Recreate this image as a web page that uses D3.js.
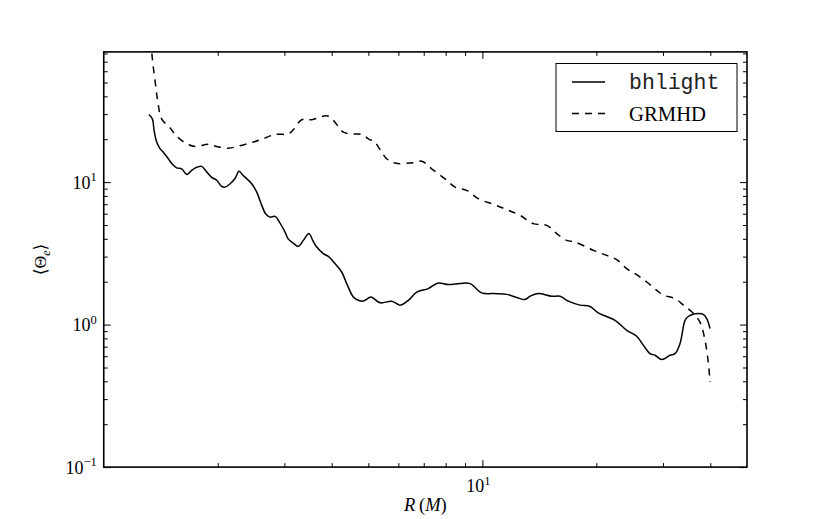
<!DOCTYPE html>
<html>
<head>
<meta charset="utf-8">
<script src="https://cdn.jsdelivr.net/npm/d3@7"></script>
<style>
  html, body { margin: 0; padding: 0; background: #fff; }
  svg { display: block; }
</style>
</head>
<body>
<svg id="chart" width="830" height="519"></svg>
<script>
// ---- data ----
const bhlightR = [1.316,1.344,1.358,1.380,1.408,1.436,1.481,1.512,1.558,1.606,1.656,1.707,1.760,1.814,1.870,1.928,1.988,2.049,2.091,2.156,2.222,2.277,2.337,2.459,2.535,2.614,2.683,2.749,2.834,2.922,3.012,3.073,3.167,3.265,3.366,3.484,3.564,3.652,3.801,3.918,4.081,4.251,4.382,4.561,4.657,4.801,4.898,5.08,5.311,5.422,5.762,6.061,6.375,6.709,7.196,7.647,8.131,8.730,9.278,9.961,10.69,11.60,12.32,12.96,13.36,14.05,15.25,16.04,16.87,18.11,19.24,20.24,22.41,24.06,25.56,26.62,27.72,28.58,29.77,31.31,32.28,33.27,34.30,34.99,36.45,38.33,39.14,39.93];
const bhlightTheta = [29.8,27.8,23.1,19.1,17.2,16.2,14.6,13.5,12.6,12.4,11.3,12.1,12.7,12.9,11.8,10.8,10.3,9.33,9.22,9.74,10.6,11.9,11.1,9.74,8.51,6.87,5.94,5.68,5.75,5.16,4.46,3.98,3.73,3.54,3.90,4.35,3.90,3.50,3.15,3.01,2.68,2.34,1.94,1.56,1.50,1.46,1.48,1.56,1.44,1.42,1.46,1.37,1.48,1.69,1.79,1.96,1.91,1.94,1.94,1.67,1.65,1.63,1.55,1.50,1.58,1.65,1.58,1.58,1.46,1.37,1.34,1.21,1.07,0.912,0.828,0.716,0.626,0.609,0.568,0.609,0.626,0.736,1.07,1.14,1.19,1.18,1.10,0.937];

const grmhdR = [1.333,1.344,1.366,1.388,1.422,1.496,1.558,1.656,1.742,1.889,1.988,2.133,2.290,2.483,2.639,2.834,3.073,3.167,3.333,3.541,3.880,4.040,4.294,4.561,4.801,5.050,5.152,5.589,5.877,6.441,6.917,7.346,8.052,8.469,9.093,9.757,10.69,11.60,12.58,13.63,14.79,15.72,16.70,17.57,19.64,21.30,22.64,24.06,25.56,27.18,28.87,30.06,32.28,33.95,35.73,37.57,38.73,39.54,39.93];
const grmhdTheta = [98.6,73.3,51.7,37.4,27.8,24.1,21.0,18.6,17.8,18.4,17.8,17.3,18.0,19.1,20.2,21.6,21.8,23.3,27.4,27.4,29.2,27.1,22.4,21.8,21.6,19.8,19.6,14.6,13.6,13.6,14.0,12.4,10.3,9.22,8.74,7.65,6.98,6.41,5.84,5.11,4.97,4.35,3.90,3.80,3.32,3.06,2.86,2.47,2.24,1.99,1.74,1.61,1.52,1.37,1.23,1.04,0.776,0.533,0.396];

const seriesNames = ["bhlight", "GRMHD"];
const xMajorTicks = [10];
const xMajorLabels = [["10", "1"]];
const xMinorTicks = [2,3,4,5,6,7,8,9,20,30,40];
const yMajorTicks = [0.1, 1, 10];
const yMajorLabels = [["10", "\u22121"], ["10", "0"], ["10", "1"]];
const yMinorTicks = [0.2,0.3,0.4,0.5,0.6,0.7,0.8,0.9,2,3,4,5,6,7,8,9,20,30,40,50,60,70,80];
const xDomain = [1, 50];
const yDomain = [0.1, 82];

// ---- layout ----
const W = 830, H = 519;
const m = { left: 103.75, right: 83, top: 51.9, bottom: 51.9 };
const pw = W - m.left - m.right, ph = H - m.top - m.bottom;
const serif = "'Liberation Serif', 'DejaVu Serif', serif";

const svg = d3.select("#chart");
const x = d3.scaleLog().domain(xDomain).range([0, pw]);
const y = d3.scaleLog().domain(yDomain).range([ph, 0]);

const g = svg.append("g").attr("transform", `translate(${m.left},${m.top})`);

g.append("clipPath").attr("id", "clip")
  .append("rect").attr("width", pw).attr("height", ph);

// ticks (inward, all four sides)
function styleAxis(sel) {
  sel.select(".domain").remove();
  sel.selectAll("line").attr("stroke", "#000").attr("stroke-width", 1);
  sel.selectAll("text").remove();
}
const MAJ = 7, MIN = 4;
g.append("g").attr("transform", `translate(0,${ph})`)
  .call(d3.axisBottom(x).tickValues(xMajorTicks).tickSize(-MAJ).tickFormat("")).call(styleAxis);
g.append("g").attr("transform", `translate(0,${ph})`)
  .call(d3.axisBottom(x).tickValues(xMinorTicks).tickSize(-MIN).tickFormat("")).call(styleAxis);
g.append("g")
  .call(d3.axisTop(x).tickValues(xMajorTicks).tickSize(-MAJ).tickFormat("")).call(styleAxis);
g.append("g")
  .call(d3.axisTop(x).tickValues(xMinorTicks).tickSize(-MIN).tickFormat("")).call(styleAxis);
g.append("g")
  .call(d3.axisLeft(y).tickValues(yMajorTicks).tickSize(-MAJ).tickFormat("")).call(styleAxis);
g.append("g")
  .call(d3.axisLeft(y).tickValues(yMinorTicks).tickSize(-MIN).tickFormat("")).call(styleAxis);
g.append("g").attr("transform", `translate(${pw},0)`)
  .call(d3.axisRight(y).tickValues(yMajorTicks).tickSize(-MAJ).tickFormat("")).call(styleAxis);
g.append("g").attr("transform", `translate(${pw},0)`)
  .call(d3.axisRight(y).tickValues(yMinorTicks).tickSize(-MIN).tickFormat("")).call(styleAxis);

// tick labels with superscripts
xMajorTicks.forEach((v, i) => {
  const t = g.append("text")
    .attr("x", x(v) - 4).attr("y", ph + 25)
    .attr("text-anchor", "middle")
    .attr("font-family", serif).attr("font-size", 18).attr("fill", "#000");
  t.append("tspan").text(xMajorLabels[i][0]);
  t.append("tspan").attr("dy", -7.5).attr("font-size", 12.5).text(xMajorLabels[i][1]);
});
yMajorTicks.forEach((v, i) => {
  const t = g.append("text")
    .attr("x", -7).attr("y", y(v) + 6.5)
    .attr("text-anchor", "end")
    .attr("font-family", serif).attr("font-size", 18).attr("fill", "#000");
  t.append("tspan").text(yMajorLabels[i][0]);
  t.append("tspan").attr("dy", -7.5).attr("font-size", 12.5).text(yMajorLabels[i][1]);
});

// lines
const line = d3.line().x(d => x(d[0])).y(d => y(d[1])).curve(d3.curveCatmullRom.alpha(0.5));
const bh = bhlightR.map((r, i) => [r, bhlightTheta[i]]);
const gr = grmhdR.map((r, i) => [r, grmhdTheta[i]]);
const lines = g.append("g").attr("clip-path", "url(#clip)");
lines.append("path").datum(gr).attr("d", line)
  .attr("fill", "none").attr("stroke", "#000").attr("stroke-width", 1.5)
  .attr("stroke-dasharray", "7,6");
lines.append("path").datum(bh).attr("d", line)
  .attr("fill", "none").attr("stroke", "#000").attr("stroke-width", 1.5)
  .attr("stroke-linejoin", "round");

// frame
g.append("rect").attr("width", pw).attr("height", ph)
  .attr("fill", "none").attr("stroke", "#000").attr("stroke-width", 1.6);

// axis labels
const xl = svg.append("text")
  .attr("x", m.left + pw / 2).attr("y", 511)
  .attr("text-anchor", "middle")
  .attr("font-family", serif).attr("font-size", 18.5).attr("fill", "#000");
xl.append("tspan").attr("font-style", "italic").text("R");
xl.append("tspan").text("\u2009(");
xl.append("tspan").attr("font-style", "italic").text("M");
xl.append("tspan").text(")");

const yl = svg.append("text")
  .attr("transform", `translate(46,${m.top + ph / 2}) rotate(-90)`)
  .attr("text-anchor", "middle")
  .attr("font-family", serif).attr("font-size", 17.5).attr("fill", "#000");
yl.append("tspan").text("\u27E8\u0398");
yl.append("tspan").attr("dy", 4).attr("font-size", 12).attr("font-style", "italic").text("e");
yl.append("tspan").attr("dy", -4).text("\u27E9");

// legend
const lg = svg.append("g").attr("transform", "translate(556,63.5)");
lg.append("rect").attr("width", 181).attr("height", 68)
  .attr("fill", "#fff").attr("stroke", "#000").attr("stroke-width", 1);
const legendRows = [
  { name: seriesNames[0], dash: null, font: "'Liberation Mono', 'DejaVu Sans Mono', monospace", size: 21.5, yy: 18.5, fill: "#222" },
  { name: seriesNames[1], dash: "7,6", font: serif, size: 20.7, yy: 50, fill: "#000" }
];
legendRows.forEach(r => {
  lg.append("line").attr("x1", 16).attr("x2", 49).attr("y1", r.yy).attr("y2", r.yy)
    .attr("stroke", "#000").attr("stroke-width", 1.5)
    .attr("stroke-dasharray", r.dash);
  lg.append("text").attr("x", 73).attr("y", r.yy + 7)
    .attr("font-family", r.font).attr("font-size", r.size).attr("fill", r.fill)
    .text(r.name);
});
</script>
</body>
</html>
